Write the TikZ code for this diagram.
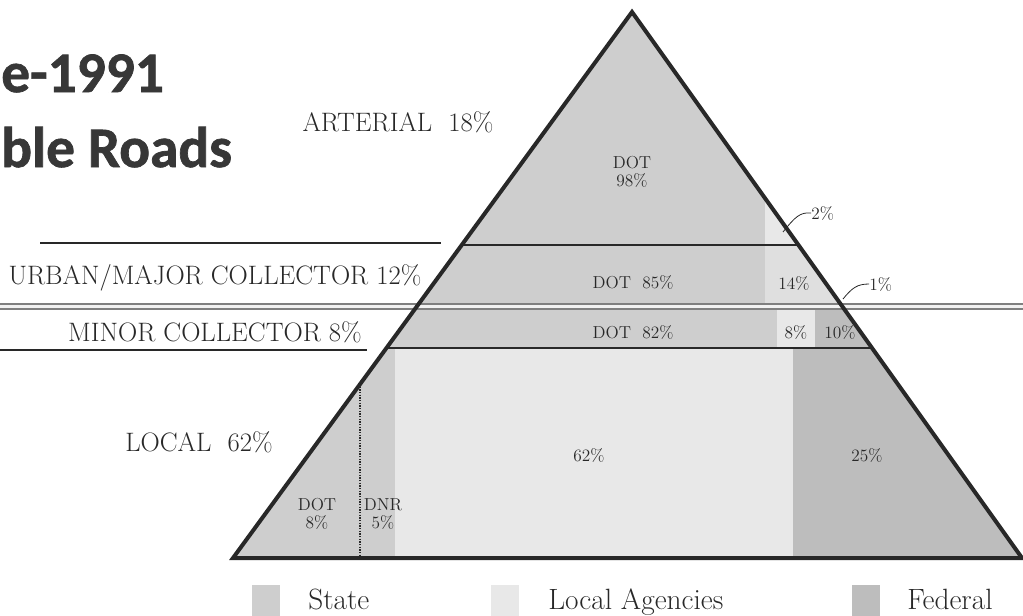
\documentclass[tikz,border=0pt]{standalone}
\usepackage{fontspec}
\newfontfamily\titlefont[FakeBold=1.2]{Carlito}
\usetikzlibrary{positioning}
\definecolor{stategray}{RGB}{206,206,206}
\definecolor{localgray}{RGB}{232,232,232}
\definecolor{fedgray}{RGB}{189,189,189}
\definecolor{inkgray}{RGB}{40,40,40}
\definecolor{titlegray}{RGB}{55,55,55}
\newcommand{\lvlsize}{\fontsize{20}{22}\selectfont}

\begin{document}
\begin{tikzpicture}[x=0.75pt, y=-0.75pt,
    every node/.style={inner sep=0pt, text=inkgray},
    levellabel/.style={font=\lvlsize},
    share/.style={font=\fontsize{13}{13}\selectfont, align=center},
    keybox/.style={minimum width=21pt, minimum height=24pt},
    keylabel/.style={font=\fontsize{22}{24}\selectfont, anchor=base west},
    heading/.style={anchor=base west, text=titlegray, font=\titlefont\bfseries\fontsize{43}{46}\selectfont},
    rule/.style={draw=inkgray, line width=1.5pt}]
  \useasboundingbox (0,0) rectangle (1023,615);
  \clip (0,0) rectangle (1023,615);

  % title
  \node[heading] (year) at (1,92) {e-1991};
  \node[heading] (roads) at (1,167) {ble Roads};

  % pyramid
  \coordinate (apex) at (632,12);
  \coordinate (bl) at (233,558);
  \coordinate (br) at (1022,558);
  \fill[stategray] (apex) -- (bl) -- (br) -- cycle;
  \begin{scope}
    \clip (apex) -- (bl) -- (br) -- cycle;
    \fill[localgray] (765,180) rectangle (1023,245);
    \fill[localgray!96!black] (765,245) rectangle (1023,304);
    \fill[localgray] (777,309) rectangle (815,348);
    \fill[fedgray] (815,309) rectangle (1023,348);
    \fill[localgray] (395,348) rectangle (793,558);
    \fill[fedgray] (793,348) rectangle (1023,558);
    \draw[rule] (0,245) -- (1023,245);
    \draw[rule] (0,348) -- (1023,348);
  \end{scope}
  \draw[rule] (40,243) -- (441,243);
  \draw[rule] (0,350) -- (367,350);
  \draw[draw=gray, line width=1pt, double=black!5, double distance=2.8pt] (0,306.5) -- (1023,306.5);
  \draw[inkgray, densely dotted, line width=1pt] (360,384) -- (360,558);
  \draw[inkgray, line width=3pt, line join=miter] (bl) -- (apex) -- (br) -- cycle;

  % road classes
  \node[levellabel] (arterial) at (398,122) {ARTERIAL\ \ 18\%};
  \node[levellabel] (urban) at (215,278) {URBAN/MAJOR COLLECTOR 12\%};
  \node[levellabel] (minor) at (215,332) {MINOR COLLECTOR 8\%};
  \node[levellabel] (local) at (199,442) {LOCAL\ \ 62\%};

  % shares
  \node[share] (art-dot) at (632,172) {DOT\\98\%};
  \node[share, anchor=west] (art-loc) at (811,213) {2\%};
  \coordinate (art-tip) at (783,232);
  \draw[inkgray, line width=0.6pt] (art-tip) .. controls (795,217) and (800,212) .. (art-loc.west);
  \node[share] (urb-dot) at (633,282) {DOT\ \ 85\%};
  \node[share] (urb-loc) at (794,283) {14\%};
  \node[share, anchor=west] (urb-fed) at (869,284) {1\%};
  \coordinate (urb-tip) at (843,299);
  \draw[inkgray, line width=0.6pt] (urb-tip) .. controls (852,288) and (857,284) .. (urb-fed.west);
  \node[share] (min-dot) at (633,332) {DOT\ \ 82\%};
  \node[share] (min-loc) at (796,332) {8\%};
  \node[share] (min-fed) at (840,332) {10\%};
  \node[share] (loc-loc) at (589,455) {62\%};
  \node[share] (loc-fed) at (867,455) {25\%};
  \node[share] (loc-dot) at (317,514) {DOT\\8\%};
  \node[share] (loc-dnr) at (383,514) {DNR\\5\%};

  % key
  \node[keybox, fill=stategray, anchor=north west] (kstate) at (252,585) {};
  \node[keylabel] (tstate) at (308,609) {State};
  \node[keybox, fill=localgray, anchor=north west] (klocal) at (491,585) {};
  \node[keylabel] (tlocal) at (548,609) {Local Agencies};
  \node[keybox, fill=fedgray, anchor=north west] (kfed) at (852,585) {};
  \node[keylabel] (tfed) at (907,609) {Federal};
\end{tikzpicture}
\end{document}
